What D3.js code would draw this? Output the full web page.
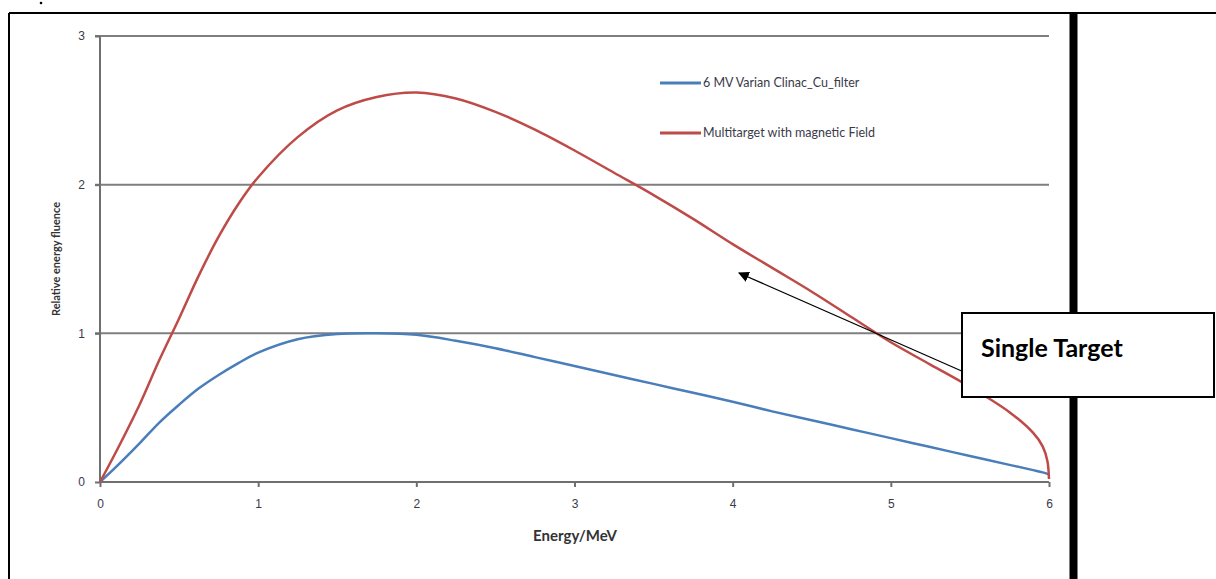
<!DOCTYPE html>
<html>
<head>
<meta charset="utf-8">
<script src="https://cdn.jsdelivr.net/npm/d3@7"></script>
<style>
  body { margin: 0; background: #fff; }
  svg { display: block; font-family: Lato, "Open Sans", sans-serif; }
  .grid line { stroke: #7f7f7f; stroke-width: 2; }
  .axis path, .axis line { stroke: #6f6f6f; stroke-width: 2; }
  .axis text { fill: #3a3a4a; font-size: 12px; }
</style>
</head>
<body>
<svg class="chart" width="1216" height="579"></svg>
<script>
var energy = [0, 0.1, 0.25, 0.375, 0.5, 0.625, 0.75, 0.875, 1.0, 1.25, 1.5, 1.75, 2.0, 2.25, 2.5, 2.75, 3.0, 3.25, 3.5, 3.75, 4.0, 4.25, 4.5, 4.75, 5.0, 5.25, 5.5, 5.75, 5.9, 5.96, 5.99, 6.0];
var varianCu = [0, 0.1, 0.26, 0.4, 0.52, 0.63, 0.72, 0.8, 0.87, 0.96, 0.995, 1.0, 0.99, 0.95, 0.9, 0.84, 0.78, 0.72, 0.66, 0.6, 0.54, 0.475, 0.415, 0.355, 0.295, 0.235, 0.175, 0.115, 0.08, 0.065, 0.055, 0.05];
var multiTarget = [0, 0.2, 0.52, 0.82, 1.1, 1.39, 1.65, 1.87, 2.05, 2.32, 2.5, 2.59, 2.62, 2.58, 2.49, 2.37, 2.23, 2.08, 1.93, 1.77, 1.6, 1.44, 1.28, 1.11, 0.94, 0.79, 0.64, 0.47, 0.33, 0.24, 0.14, 0.02];
var seriesNames = ["6 MV Varian Clinac_Cu_filter", "Multitarget with magnetic Field"];
var seriesColors = ["#4a7ebb", "#be4b48"];
var xTicks = [0, 1, 2, 3, 4, 5, 6];
var yTicks = [0, 1, 2, 3];

var margin = {top: 36, left: 100},
    width = 949,
    height = 446;

var svg = d3.select("svg.chart");

// outer frame of the pasted figure
svg.append("line").attr("x1", 9).attr("x2", 1216).attr("y1", 13).attr("y2", 13)
  .attr("stroke", "#000").attr("stroke-width", 2);
svg.append("line").attr("x1", 9).attr("x2", 9).attr("y1", 13).attr("y2", 579)
  .attr("stroke", "#000").attr("stroke-width", 2);
svg.append("line").attr("x1", 1073.5).attr("x2", 1073.5).attr("y1", 13).attr("y2", 579)
  .attr("stroke", "#000").attr("stroke-width", 8);
svg.append("circle").attr("cx", 41).attr("cy", 3).attr("r", 1.3).attr("fill", "#000");

var g = svg.append("g")
  .attr("transform", "translate(" + margin.left + "," + margin.top + ")");

var x = d3.scaleLinear().domain([0, 6]).range([0, width]);
var y = d3.scaleLinear().domain([0, 3]).range([height, 0]);

g.append("g")
  .attr("class", "grid")
  .selectAll("line")
  .data(yTicks.slice(1))
  .enter().append("line")
  .attr("x1", -5).attr("x2", width)
  .attr("y1", function(d) { return y(d); })
  .attr("y2", function(d) { return y(d); });

var yAxis = d3.axisLeft(y).tickValues(yTicks).tickSize(5).tickPadding(10).tickFormat(d3.format("d"));
g.append("g").attr("class", "axis").call(yAxis)
  .call(function(s) { s.select(".domain").attr("d", "M0," + height + "V0"); });

var xAxis = d3.axisBottom(x).tickValues(xTicks).tickSize(5).tickPadding(12).tickFormat(d3.format("d"));
g.append("g").attr("class", "axis")
  .attr("transform", "translate(0," + height + ")")
  .call(xAxis)
  .call(function(s) { s.select(".domain").attr("d", "M0,0H" + width); });

var line = d3.line()
  .x(function(d) { return x(d[0]); })
  .y(function(d) { return y(d[1]); })
  .curve(d3.curveCatmullRom.alpha(0.5));

[varianCu, multiTarget].forEach(function(vals, i) {
  g.append("path")
    .datum(energy.map(function(e, j) { return [e, vals[j]]; }))
    .attr("fill", "none")
    .attr("stroke", seriesColors[i])
    .attr("stroke-width", 2.5)
    .attr("d", line);
});

// legend
seriesNames.forEach(function(name, i) {
  var ly = 83 + i * 50;
  svg.append("line").attr("x1", 660).attr("x2", 701).attr("y1", ly).attr("y2", ly)
    .attr("stroke", seriesColors[i]).attr("stroke-width", 3);
  svg.append("text").attr("x", 703).attr("y", ly + 4)
    .attr("font-size", 12.5).attr("fill", "#3a3a4a").text(name);
});

// axis titles
svg.append("text").attr("x", 575).attr("y", 541).attr("text-anchor", "middle")
  .attr("font-size", 15).attr("font-weight", "bold").attr("fill", "#333")
  .text("Energy/MeV");
svg.append("text")
  .attr("transform", "translate(60,259) rotate(-90)")
  .attr("text-anchor", "middle")
  .attr("font-size", 11).attr("font-weight", "bold").attr("fill", "#333")
  .text("Relative energy fluence");

// annotation
var defs = svg.append("defs");
defs.append("marker").attr("id", "arr")
  .attr("viewBox", "0 0 10 10").attr("refX", 9).attr("refY", 5)
  .attr("markerWidth", 9).attr("markerHeight", 9).attr("orient", "auto")
  .append("path").attr("d", "M0,0L10,5L0,10z").attr("fill", "#000");
svg.append("line").attr("x1", 998).attr("y1", 387).attr("x2", 739).attr("y2", 273)
  .attr("stroke", "#000").attr("stroke-width", 1.2).attr("marker-end", "url(#arr)");
svg.append("rect").attr("x", 962).attr("y", 313).attr("width", 252).attr("height", 84)
  .attr("fill", "#fff").attr("stroke", "#000").attr("stroke-width", 2);
svg.append("text").attr("x", 981).attr("y", 357)
  .attr("font-size", 25).attr("font-weight", "bold").attr("fill", "#000")
  .text("Single Target");
</script>
</body>
</html>
